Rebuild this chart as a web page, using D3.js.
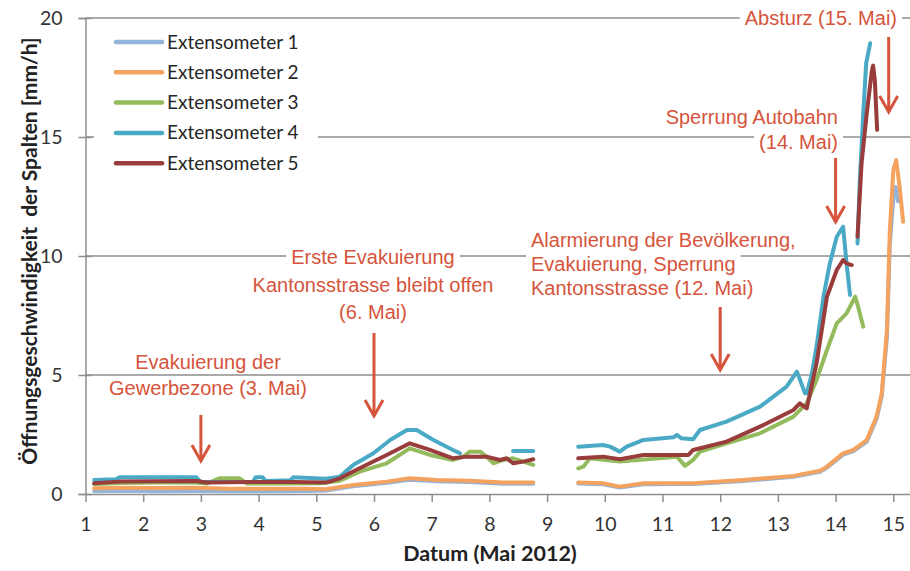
<!DOCTYPE html>
<html><head><meta charset="utf-8">
<script src="https://cdn.jsdelivr.net/npm/d3@7"></script>
<style>
html,body{margin:0;padding:0;background:#fff;}
svg{display:block;}
</style></head>
<body>
<svg id="chart" width="910" height="571"></svg>
<script>
// ---------- DATA ----------
const seriesNames = ["Extensometer 1","Extensometer 2","Extensometer 3","Extensometer 4","Extensometer 5"];
const seriesColors = ["#94b3d9","#f3a35f","#93ba5c","#4aaac6","#983d3b"];
const xTicks = [1,2,3,4,5,6,7,8,9,10,11,12,13,14,15];
const yTicks = [0,5,10,15,20];

// [day of May 2012, opening rate mm/h]; null = gap
const ext1 = [[1.15,0.12],[1.6,0.14],[2.2,0.12],[2.9,0.13],[3.5,0.12],[4.2,0.12],[4.8,0.13],[5.17,0.15],[5.64,0.32],[6.22,0.47],[6.62,0.6],[7.09,0.54],[7.66,0.5],[8.24,0.43],[8.76,0.43],null,
  [9.54,0.44],[9.97,0.41],[10.26,0.27],[10.67,0.41],[11.53,0.42],[12.4,0.55],[13.27,0.72],[13.73,0.93],[13.85,1.1],[14.13,1.65],[14.31,1.8],[14.54,2.2],[14.71,3.15],[14.8,4.1],[14.89,6.6],[14.94,10.5],[15.0,12.4],[15.04,12.9],[15.08,12.3],[15.12,12.5]];
const ext2 = [[1.15,0.24],[1.6,0.26],[2.2,0.25],[2.9,0.26],[3.5,0.22],[4.2,0.22],[4.8,0.22],[5.17,0.2],[5.64,0.38],[6.22,0.52],[6.62,0.66],[7.09,0.59],[7.66,0.56],[8.24,0.48],[8.76,0.48],null,
  [9.54,0.48],[9.97,0.45],[10.26,0.31],[10.67,0.45],[11.53,0.45],[12.4,0.59],[13.27,0.76],[13.73,0.98],[13.85,1.15],[14.13,1.71],[14.31,1.85],[14.54,2.27],[14.71,3.25],[14.8,4.23],[14.89,6.89],[14.94,11.09],[15.0,13.6],[15.05,14.03],[15.11,12.9],[15.17,11.44]];
const ext3 = [[1.15,0.42],[1.6,0.46],[2.2,0.48],[2.9,0.48],[3.1,0.44],[3.32,0.66],[3.67,0.66],[3.8,0.44],[4.5,0.44],[5.06,0.45],[5.41,0.56],[5.75,0.94],[6.22,1.29],[6.62,1.92],[6.97,1.64],[7.37,1.43],[7.55,1.57],[7.66,1.78],[7.84,1.78],[7.95,1.57],[8.07,1.29],[8.24,1.43],[8.41,1.5],[8.59,1.36],[8.76,1.22],null,
  [9.54,1.08],[9.63,1.15],[9.74,1.5],[10.26,1.36],[11.25,1.57],[11.39,1.18],[11.53,1.43],[11.65,1.78],[12.11,2.13],[12.69,2.55],[13.27,3.25],[13.5,3.81],[13.67,4.79],[13.85,6.05],[14.02,7.17],[14.19,7.59],[14.34,8.29],[14.39,7.87],[14.48,7.03]];
const ext4 = [[1.15,0.59],[1.53,0.62],[1.59,0.7],[2.92,0.7],[3.0,0.5],[3.9,0.5],[3.95,0.7],[4.07,0.7],[4.12,0.55],[4.55,0.58],[4.6,0.7],[5.17,0.64],[5.41,0.73],[5.64,1.22],[5.99,1.71],[6.28,2.27],[6.57,2.69],[6.74,2.69],[7.03,2.27],[7.37,1.85],[7.49,1.71],null,
  [8.41,1.81],[8.76,1.81],null,
  [9.54,1.99],[9.97,2.06],[10.09,1.99],[10.26,1.78],[10.38,1.99],[10.67,2.27],[11.19,2.38],[11.25,2.48],[11.33,2.34],[11.53,2.3],[11.65,2.69],[12.11,3.04],[12.69,3.67],[13.15,4.51],[13.33,5.14],[13.47,4.23],[13.5,4.23],[13.59,5.07],[13.67,6.19],[13.79,8.29],[13.9,9.69],[14.02,10.81],[14.13,11.23],[14.19,9.69],[14.25,8.36],null,
  [14.38,10.53],[14.42,13.2],[14.48,16.0],[14.53,18.1],[14.6,18.94]];
const ext5 = [[1.15,0.45],[1.59,0.52],[2.92,0.55],[3.09,0.48],[3.9,0.5],[4.6,0.5],[5.17,0.48],[5.41,0.66],[5.75,1.08],[6.22,1.64],[6.62,2.13],[6.97,1.85],[7.37,1.5],[7.61,1.57],[7.95,1.57],[8.18,1.43],[8.3,1.5],[8.41,1.29],[8.59,1.36],[8.76,1.46],null,
  [9.54,1.5],[9.97,1.57],[10.26,1.46],[10.67,1.64],[11.45,1.64],[11.53,1.85],[12.11,2.2],[12.69,2.83],[13.27,3.53],[13.38,3.81],[13.5,3.6],[13.67,5.49],[13.85,8.29],[14.02,9.41],[14.13,9.83],[14.19,9.69],[14.28,9.62],null,
  [14.38,10.81],[14.45,13.9],[14.54,16.0],[14.63,17.8],[14.65,18.0],[14.68,17.4],[14.72,15.3]];
const seriesData = [ext1, ext2, ext3, ext4, ext5];

// annotations: event date (arrow position) and text lines
const annotDates = [3, 6, 12, 14, 14.92];
const annotTexts = [
  ["Evakuierung der","Gewerbezone (3. Mai)"],
  ["Erste Evakuierung","Kantonsstrasse bleibt offen","(6. Mai)"],
  ["Alarmierung der Bevölkerung,","Evakuierung, Sperrung","Kantonsstrasse (12. Mai)"],
  ["Sperrung Autobahn","(14. Mai)"],
  ["Absturz (15. Mai)"]
];

// ---------- LAYOUT ----------
const svg = d3.select("#chart");
const X0 = 85.5, X1 = 910, Y0 = 494, Y1 = 18;
const x = d3.scaleLinear().domain([1, 1 + (X1 - X0) / 57.7]).range([X0, X1]);
const y = d3.scaleLinear().domain([0, 20]).range([Y0, Y1]);
const axisCol = "#8e8e8e";
const tickFont = "Lato, 'Open Sans', sans-serif";
const annFont = "'Liberation Sans', Arial, sans-serif";
const annCol = "#d5543b";

// gridlines
svg.append("g").selectAll("line").data(yTicks.filter(v => v > 0)).join("line")
  .attr("x1", X0).attr("x2", X1).attr("y1", d => y(d)).attr("y2", d => y(d))
  .attr("stroke", axisCol).attr("stroke-width", 1.5);

// y axis
const yAxis = d3.axisLeft(y).tickValues(yTicks).tickSize(7).tickPadding(16);
const gy = svg.append("g").attr("transform", `translate(${X0},0)`).call(yAxis);
gy.select(".domain").attr("stroke", axisCol).attr("stroke-width", 1.5);
gy.selectAll(".tick line").attr("stroke", axisCol).attr("stroke-width", 1.5).attr("x2", 6).attr("x1", -7);
gy.selectAll(".tick text").attr("font-family", tickFont).attr("font-size", 19.5).attr("fill", "#333").attr("x", -23);

// x axis
const xAxis = d3.axisBottom(x).tickValues(xTicks).tickSize(8).tickPadding(15).tickSizeOuter(0);
const gx = svg.append("g").attr("transform", `translate(0,${Y0})`).call(xAxis);
gx.select(".domain").attr("stroke", axisCol).attr("stroke-width", 1.5);
gx.selectAll(".tick line").attr("stroke", axisCol).attr("stroke-width", 1.5);
gx.selectAll(".tick text").attr("font-family", tickFont).attr("font-size", 19.5).attr("fill", "#333");

// axis titles
svg.append("text").attr("x", 490).attr("y", 561).attr("text-anchor", "middle")
  .attr("font-family", tickFont).attr("font-weight", "bold").attr("font-size", 21.5).attr("fill", "#222")
  .text("Datum (Mai 2012)");
svg.append("text").attr("transform", "translate(37,251) rotate(-90)").attr("text-anchor", "middle")
  .attr("font-family", tickFont).attr("font-weight", "bold").attr("font-size", 21).attr("fill", "#222")
  .style("white-space", "pre")
  .text("Öffnungsgeschwindigkeit  der Spalten [mm/h]");

// series
const line = d3.line().defined(d => d !== null).x(d => x(d[0])).y(d => y(d[1]));
svg.append("g").selectAll("path").data(seriesData).join("path")
  .attr("d", d => line(d)).attr("fill", "none")
  .attr("stroke", (d, i) => seriesColors[i]).attr("stroke-width", 4)
  .attr("stroke-linejoin", "round").attr("stroke-linecap", "round");

// legend
const lg = svg.append("g");
lg.append("rect").attr("x", 94).attr("y", 26).attr("width", 224).attr("height", 152).attr("fill", "#fff");
seriesNames.forEach((n, i) => {
  const cy = 42 + i * 30.3;
  lg.append("line").attr("x1", 116).attr("x2", 162).attr("y1", cy).attr("y2", cy)
    .attr("stroke", seriesColors[i]).attr("stroke-width", 4.5).attr("stroke-linecap", "round");
  lg.append("text").attr("x", 167).attr("y", cy + 6.5).attr("font-family", tickFont).attr("font-size", 19)
    .attr("fill", "#262626").text(n);
});

// annotations
const annLayout = [
  {anchor: "middle", tx: 208, ty: [362, 388], a: [415, 461]},
  {anchor: "middle", tx: 373, ty: [257, 285, 312], a: [333, 416]},
  {anchor: "start", tx: 531, ty: [240, 264, 288], a: [307, 370]},
  {anchor: "end", tx: 838, ty: [117, 142], a: [158, 222]},
  {anchor: "end", tx: 897, ty: [18], a: [37, 112]}
];
const ag = svg.append("g");
annotTexts.forEach((lines, k) => {
  const L = annLayout[k];
  lines.forEach((t, j) => {
    const bg = ag.append("rect").attr("fill", "#fff");
    const tt = ag.append("text").attr("x", L.tx).attr("y", L.ty[j] + 7).attr("text-anchor", L.anchor)
      .attr("font-family", annFont).attr("font-size", 20).attr("fill", annCol).text(t);
    const b = tt.node().getBBox();
    bg.attr("x", b.x - 5).attr("y", b.y - 1).attr("width", b.width + 10).attr("height", b.height + 2);
  });
  const ax = x(annotDates[k]);
  ag.append("line").attr("x1", ax).attr("x2", ax).attr("y1", L.a[0]).attr("y2", L.a[1])
    .attr("stroke", annCol).attr("stroke-width", 3);
  ag.append("path").attr("d", `M${ax - 9},${L.a[1] - 16}L${ax},${L.a[1]}L${ax + 9},${L.a[1] - 16}`)
    .attr("fill", "none").attr("stroke", annCol).attr("stroke-width", 3).attr("stroke-linejoin", "miter");
});
</script>
</body></html>
